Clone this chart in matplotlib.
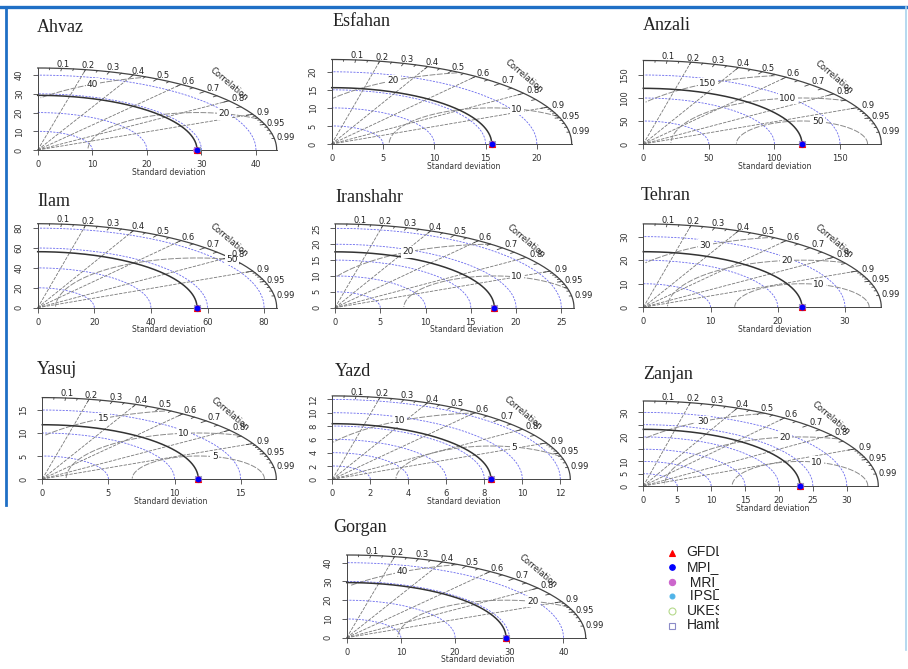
import numpy as np
import matplotlib.pyplot as plt
from matplotlib.lines import Line2D

# ---- data ----
stations = ["Ahvaz", "Esfahan", "Anzali", "Ilam", "Iranshahr", "Tehran",
            "Yasuj", "Yazd", "Zanjan", "Gorgan"]
ref_sd = [29.2, 15.6, 121.0, 56.3, 17.6, 23.6, 11.8, 8.35, 23.1, 29.4]
sd_ticks = [[0, 10, 20, 30, 40], [0, 5, 10, 15, 20], [0, 50, 100, 150],
            [0, 20, 40, 60, 80], [0, 5, 10, 15, 20, 25], [0, 10, 20, 30],
            [0, 5, 10, 15], [0, 2, 4, 6, 8, 10, 12], [0, 5, 10, 15, 20, 25, 30],
            [0, 10, 20, 30, 40]]
y_unlabelled = {"Zanjan": [15, 25]}
gamma_levels = [[20, 40], [10, 20], [50, 100, 150], [50], [10, 20], [10, 20, 30],
                [5, 10, 15], [5, 10], [10, 20, 30], [20, 40]]

models = ["GFDL-ESM2M", "MPI_ESM-MR", " MRI_CGCM3", " IPSL-CM5A", "UKESM1-0", "Hamburg"]
model_sd = [[29.2, 29.2, 29.1, 29.2, 29.2, 29.2],
            [15.6, 15.6, 15.6, 15.6, 15.6, 15.6],
            [121.0, 121.0, 121.0, 121.0, 121.0, 121.0],
            [56.3, 56.3, 56.3, 56.3, 56.3, 56.3],
            [17.6, 17.6, 17.6, 17.6, 17.6, 17.6],
            [23.6, 23.6, 23.6, 23.6, 23.6, 23.6],
            [11.8, 11.8, 11.8, 11.8, 11.8, 11.8],
            [8.35, 8.35, 8.35, 8.35, 8.35, 8.35],
            [23.1, 23.1, 23.1, 23.1, 23.1, 23.1],
            [29.4, 29.4, 29.4, 29.4, 29.4, 29.4]]
model_cor = [1.0, 1.0, 1.0, 1.0, 1.0, 1.0]
model_marker = ["^", "o", "o", "o", "o", "s"]
model_face = ["red", "blue", "#cc66cc", "#4fb3e8", "none", "none"]
model_edge = ["red", "blue", "#cc66cc", "#4fb3e8", "#b5d98b", "#8c8cc8"]
model_size = [4, 3.5, 4, 3, 4.5, 4.5]
model_z = [8, 9, 7, 6, 5, 4]

# ---- layout (pixels): origin x, origin y, width and height of maxsd ----
panel_px = [(37.7, 150, 239, 82), (331.7, 144, 240, 84.5), (643.3, 144, 238, 83.5),
            (37.7, 307.7, 239, 84), (335, 307.7, 239, 83.8), (643.3, 307.3, 238, 83.4),
            (42.3, 479, 234, 81.4), (332.3, 479.3, 238, 83.4), (643.3, 486, 235, 85),
            (346.7, 637.7, 239, 82.7)]
title_px = [(37, 27), (333, 22), (643, 26), (37, 201), (335, 197), (641, 196),
            (37, 370), (335, 371), (643, 375), (333, 528)]

FW, FH = 908, 669
fig = plt.figure(figsize=(FW / 100, FH / 100), dpi=100)
fig.patch.set_facecolor("white")


def taylor(ax, name, ref, ticks, gammas, msd):
    maxsd = 1.5 * max([ref] + msd)
    ax.set_xlim(0, 1.1 * maxsd)
    ax.set_ylim(0, 1.1 * maxsd)
    ax.patch.set_alpha(0)
    for s in ["top", "right"]:
        ax.spines[s].set_visible(False)
    for s in ["bottom", "left"]:
        ax.spines[s].set_bounds(0, maxsd)
        ax.spines[s].set_linewidth(0.7)
        ax.spines[s].set_color("#444444")
    ax.set_xticks(ticks)
    ax.set_yticks(ticks)
    ax.set_xticklabels([str(t) for t in ticks])
    hidden = y_unlabelled.get(name, [])
    ax.set_yticklabels(["" if t in hidden else str(t) for t in ticks],
                       rotation=90, va="center")
    ax.tick_params(axis="both", length=3.5, width=0.6, color="#444444",
                   labelsize=6, labelcolor="#333333")
    ax.tick_params(axis="x", pad=3.6)
    ax.tick_params(axis="y", pad=6.5)
    ax.annotate("Standard deviation", xy=(0.5, 0), xycoords="axes fraction",
                xytext=(0, -16), textcoords="offset points", ha="center",
                va="center", fontsize=5.5, color="#333333")

    t = np.linspace(0, np.pi / 2, 200)
    # sd arcs
    for s in ticks[1:]:
        ax.plot(s * np.cos(t), s * np.sin(t), color="#6a6aee", lw=0.6,
                ls=(0, (2.5, 1.5)), clip_on=False)
    # correlation lines
    for c in [0.2, 0.4, 0.6, 0.8, 0.9]:
        ax.plot([0, maxsd * c], [0, maxsd * np.sqrt(1 - c * c)], color="#777777",
                lw=0.6, ls=(0, (4, 1.5)), clip_on=False)
    # centred RMS arcs
    th = np.arange(0, np.pi, 0.03)
    labelpos = np.linspace(45, 70, len(gammas))
    for g, lp in zip(gammas, labelpos):
        x = np.cos(th) * g + ref
        y = np.sin(th) * g
        keep = (x >= 0) & (x * x + y * y <= maxsd * maxsd)
        ax.plot(x[keep], y[keep], color="#8a8a8a", lw=0.7, ls=(0, (6, 1.5)),
                clip_on=False)
        k = int(lp) - 1
        if x[k] > 0:
            ax.text(x[k], y[k], str(g), fontsize=6.5, ha="center", va="center",
                    color="#222222",
                    bbox=dict(boxstyle="square,pad=0.15", fc="white", ec="none"))
    # outer arc and reference arc
    ax.plot(maxsd * np.cos(t), maxsd * np.sin(t), color="#444444", lw=0.9, clip_on=False)
    ax.plot(ref * np.cos(t), ref * np.sin(t), color="#333333", lw=1.1, clip_on=False)
    # correlation ticks
    for vals, f in [(np.arange(0.1, 0.95, 0.1), 0.97), (np.arange(0.05, 1.0, 0.1), 0.98),
                    (np.arange(0.91, 0.995, 0.01), 0.99)]:
        for ang in np.arccos(vals):
            ax.plot([maxsd * np.cos(ang), f * maxsd * np.cos(ang)],
                    [maxsd * np.sin(ang), f * maxsd * np.sin(ang)],
                    color="#444444", lw=0.6, clip_on=False)
    corr_lab = [0.1, 0.2, 0.3, 0.4, 0.5, 0.6, 0.7, 0.8, 0.9, 0.95, 0.99]
    for c in corr_lab:
        ang = np.arccos(c)
        ax.text(1.05 * maxsd * np.cos(ang), 1.05 * maxsd * np.sin(ang), str(c),
                fontsize=6, ha="center", va="center", color="#222222")
    ax.text(0.8 * maxsd, 0.8 * maxsd, "Correlation", rotation=-40, fontsize=6,
            ha="center", va="center", color="#222222")
    # model points
    for i in range(len(models)):
        ang = np.arccos(model_cor[i])
        ax.plot(msd[i] * np.cos(ang), msd[i] * np.sin(ang), marker=model_marker[i],
                ms=model_size[i], mfc=model_face[i], mec=model_edge[i], mew=0.8,
                ls="none", clip_on=False, zorder=model_z[i])


for i, name in enumerate(stations):
    ox, oy, W, H = panel_px[i]
    ax = fig.add_axes([ox / FW, 1 - oy / FH, 1.1 * W / FW, 1.1 * H / FH])
    taylor(ax, name, ref_sd[i], sd_ticks[i], gamma_levels[i], model_sd[i])
    tx, ty = title_px[i]
    fig.text(tx / FW, 1 - ty / FH, name, fontsize=13, family="Liberation Serif",
             ha="left", va="center", color="#222222")

# legend (names clipped as in the original)
lax = fig.add_axes([660 / FW, 1 - 640 / FH, 59 / FW, 100 / FH])
lax.set_xlim(660, 719)
lax.set_ylim(640, 540)
lax.axis("off")
for i, m in enumerate(models):
    yy = 552.5 + i * 14.6
    lax.plot(672, yy, marker=model_marker[i], ms=model_size[i] + 0.5,
             mfc=model_face[i], mec=model_edge[i], mew=0.8, ls="none")
    lax.text(686.5, yy, m, fontsize=10, family="Liberation Sans", va="center",
             ha="left", color="#222222", clip_on=True)

# blue frame
fig.add_artist(Line2D([0, 1], [1 - 7 / FH, 1 - 7 / FH], color="#1f6fc5", lw=2.4))
fig.add_artist(Line2D([5.5 / FW, 5.5 / FW], [1 - 7 / FH, 1 - 505 / FH], color="#1f6fc5", lw=2.0))
fig.add_artist(Line2D([906 / FW, 906 / FW], [1 - 7 / FH, 1 - 650 / FH], color="#a9d3ee", lw=1.2))

fig.savefig("out.png", dpi=100)
